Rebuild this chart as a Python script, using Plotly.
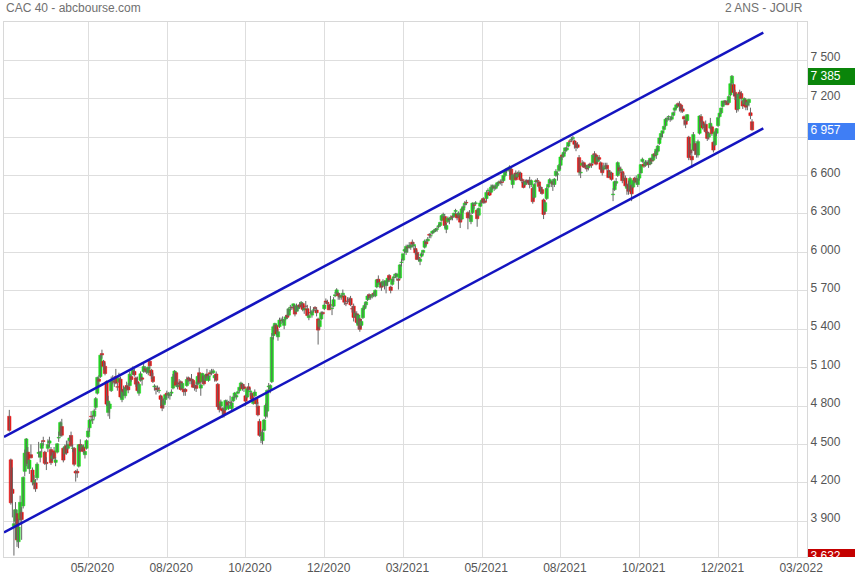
import plotly.graph_objects as go

# ---- Daily OHLC, CAC 40, 11/03/2020 -> 24/01/2022 (one row per month) ----
opens = [
    4720,4380,4150,3860,3900,3960,3740,3910,3970,4020,4290,4370,4440,4310,4420,
    4300,4190,4200,4240,4430,4400,4470,4530,4440,4360,4470,4510,4460,4390,4450,4360,4440,4550,4570,4640,
    4470,4430,4490,4470,4530,4570,4470,4470,4290,4290,4330,4500,4470,4480,4420,4470,4560,4630,4720,4690,
    4720,4790,4900,5010,5030,5210,5150,5110,4990,4750,4780,4920,4990,4990,5030,4950,4990,5010,4850,4930,4880,4960,
    4950,4960,5030,5050,5070,5020,4990,4900,5000,5020,5070,5090,5080,5060,5150,5080,5030,4950,4940,4940,4920,4880,4850,
    4810,4850,4900,4890,4880,4900,4940,5010,5060,4950,4980,4990,4940,4930,4930,4960,5020,5010,5010,5000,4960,
    4960,4970,5060,4940,4990,5030,5000,5050,5000,5060,5060,5060,5020,5050,4970,4810,4800,4780,4770,4770,4830,4780,
    4830,4780,4840,4880,4870,4900,4920,4950,4970,4950,4880,4870,4950,4910,4900,4820,4880,4860,4800,4680,4570,4530,
    4610,4720,4760,4950,4930,4990,5350,5420,5430,5340,5420,5470,5470,5430,5480,5510,5510,5570,5570,5580,5580,
    5540,5560,5590,5590,5600,5550,5580,5560,5490,5530,5510,5550,5570,5550,5480,5420,5480,5530,5560,5620,5610,5590,
    5590,5560,5580,5660,5680,5680,5660,5650,5670,5660,5600,5620,5630,5640,5560,5580,5500,5520,5430,5480,
    5430,5490,5560,5590,5630,5670,5650,5660,5680,5660,5730,5790,5750,5760,5740,5760,5740,5770,5820,5730,
    5750,5800,5820,5810,5790,5800,5920,5940,6010,6000,6040,6040,6040,6080,6050,6030,6000,5960,5930,5970,6000,6040,6080,
    6090,6140,6130,6150,6160,6170,6180,6200,6210,6250,6290,6280,6180,6240,6260,6260,6280,6280,6320,6300,
    6290,6290,6260,6330,6370,6390,6310,6290,6240,6310,6370,6380,6330,6290,6360,6390,6420,6400,6420,6480,6470,
    6470,6500,6510,6500,6520,6540,6550,6550,6560,6600,6640,6650,6640,6650,6530,6600,6620,6590,6620,6620,6570,6550,
    6530,6560,6560,6560,6530,6500,6430,6550,6560,6550,6510,6490,6410,6320,6420,6510,6540,6550,6550,6530,6600,6610,
    6640,6680,6760,6750,6790,6800,6830,6870,6880,6890,6870,6850,6840,6740,6620,6680,6700,6680,6660,6660,6690,6690,
    6700,6770,6760,6710,6740,6700,6650,6650,6670,6680,6640,6600,6620,6450,6490,6540,6600,6660,6640,6630,6570,6580,
    6500,6530,6490,6520,6510,6580,6560,6530,6580,6620,6710,6690,6680,6700,6700,6690,6730,6720,6770,6760,6790,
    6850,6900,6930,6960,6990,7040,7060,7040,7040,7070,7110,7130,7160,7160,7150,7120,7060,7030,7030,6900,6800,6750,
    6800,6850,6810,6760,6930,7060,7020,6980,7000,6940,6900,6970,6980,6860,6840,6930,6990,7060,7090,7140,7170,7180,7170,
    7170,7230,7320,7310,7250,7230,7120,7250,7240,7180,7160,7190,7150,7170,7090,7020,
]
highs = [
    4770,4390,4320,3990,4050,3990,3920,4100,4010,4250,4460,4550,4480,4380,4500,
    4320,4260,4230,4360,4520,4450,4530,4560,4450,4400,4540,4560,4480,4440,4480,4400,4510,4600,4680,4700,
    4480,4500,4530,4530,4570,4600,4500,4480,4300,4310,4500,4540,4500,4500,4450,4540,4630,4700,4760,4730,
    4780,4870,5030,5040,5200,5240,5160,5140,5000,4880,4830,5030,5040,5010,5090,4980,5060,5030,4930,4960,4950,4990,
    4980,5070,5040,5110,5090,5030,5030,4980,5070,5030,5130,5110,5100,5110,5160,5090,5060,4970,4960,4960,4950,4890,4870,
    4860,4890,4920,4910,4900,4930,5050,5080,5070,4990,5010,5000,4990,4940,4940,5030,5030,5020,5050,5010,4970,
    4990,5040,5100,4990,5060,5040,5050,5090,5050,5080,5090,5090,5040,5070,4980,4820,4850,4790,4790,4850,4850,4840,
    4880,4840,4880,4910,4890,4920,4950,4990,4980,4970,4890,4950,4980,4940,4910,4870,4930,4870,4830,4700,4610,4620,
    4700,4820,4930,4980,4970,5370,5430,5450,5440,5400,5490,5490,5500,5480,5510,5560,5570,5590,5580,5600,5590,
    5600,5590,5610,5620,5610,5570,5620,5590,5520,5580,5550,5570,5580,5570,5490,5480,5540,5540,5610,5640,5630,5600,
    5660,5580,5650,5690,5720,5690,5680,5670,5710,5670,5620,5650,5650,5660,5580,5600,5540,5540,5520,5490,
    5480,5570,5600,5620,5670,5680,5670,5680,5690,5710,5790,5820,5770,5770,5790,5780,5780,5800,5830,5740,
    5800,5820,5840,5840,5800,5910,5950,5990,6030,6060,6060,6080,6070,6100,6080,6050,6020,5990,5960,6000,6020,6100,6100,
    6120,6150,6150,6170,6180,6190,6200,6220,6240,6290,6310,6300,6230,6280,6270,6290,6290,6310,6340,6310,
    6320,6300,6350,6370,6400,6410,6320,6330,6310,6390,6390,6400,6340,6350,6400,6420,6430,6410,6480,6500,6480,
    6530,6530,6530,6530,6550,6560,6570,6570,6600,6640,6660,6660,6680,6660,6610,6620,6640,6630,6640,6630,6580,6560,
    6570,6570,6570,6590,6570,6510,6540,6570,6580,6560,6520,6510,6420,6400,6510,6540,6580,6560,6570,6580,6650,6630,
    6690,6750,6770,6790,6820,6830,6860,6880,6900,6910,6880,6860,6860,6760,6660,6720,6710,6690,6680,6690,6700,6700,
    6770,6790,6770,6750,6760,6710,6680,6700,6700,6700,6650,6640,6630,6500,6560,6580,6710,6680,6670,6640,6620,6600,
    6540,6560,6590,6530,6570,6590,6600,6580,6620,6690,6740,6710,6720,6720,6720,6740,6740,6770,6790,6810,6840,
    6900,6930,6950,6990,7050,7060,7070,7060,7070,7100,7130,7160,7170,7180,7160,7140,7070,7040,7080,6910,6850,6800,
    6940,6870,6850,6880,7070,7080,7030,7010,7030,6950,6940,7050,6990,6870,6950,6970,7060,7090,7130,7180,7190,7190,7190,
    7230,7320,7385,7320,7270,7240,7240,7270,7260,7190,7210,7200,7180,7200,7130,7040,
]
lows = [
    4600,4030,3930,3632,3760,3700,3690,3880,3755,4000,4250,4330,4310,4270,4390,
    4180,4150,4130,4220,4400,4360,4440,4490,4340,4300,4440,4480,4340,4370,4380,4330,4430,4520,4560,4560,
    4360,4420,4420,4460,4520,4480,4440,4330,4210,4240,4320,4440,4450,4430,4390,4460,4550,4600,4680,4660,
    4700,4770,4890,4960,5020,5170,5080,5040,4800,4720,4700,4910,4970,4950,4970,4920,4980,4860,4830,4880,4860,4920,
    4900,4950,4990,5040,5030,4950,4910,4880,4990,4960,5060,5060,5050,5040,5090,5010,4980,4920,4890,4910,4900,4800,4760,
    4780,4820,4860,4860,4850,4880,4930,4990,4950,4930,4950,4920,4930,4880,4880,4950,4990,4970,4970,4940,4920,
    4910,4960,4970,4880,4980,4960,4990,5010,4990,5030,5040,5050,4990,4990,4780,4750,4780,4710,4710,4760,4790,4770,
    4800,4760,4830,4860,4850,4890,4910,4940,4920,4910,4800,4860,4920,4880,4840,4810,4870,4790,4720,4560,4510,4500,
    4600,4700,4710,4910,4900,4980,5320,5380,5350,5310,5410,5440,5450,5400,5470,5480,5500,5540,5550,5560,5500,
    5530,5540,5560,5570,5540,5520,5560,5500,5470,5520,5490,5530,5540,5500,5280,5400,5470,5510,5550,5600,5590,5550,
    5570,5510,5570,5650,5670,5630,5630,5630,5660,5590,5580,5600,5610,5580,5530,5460,5490,5440,5400,5380,
    5410,5480,5550,5570,5620,5630,5630,5640,5650,5650,5720,5760,5720,5700,5730,5710,5680,5740,5770,5680,
    5740,5770,5800,5780,5710,5790,5890,5930,5990,5980,6000,6030,6020,6040,6020,5980,5940,5930,5900,5960,5980,6030,6050,
    6080,6110,6110,6140,6150,6160,6160,6190,6200,6240,6270,6190,6150,6230,6220,6250,6250,6270,6300,6250,
    6270,6190,6250,6310,6350,6370,6180,6260,6220,6300,6340,6370,6200,6280,6350,6380,6380,6380,6400,6470,6440,
    6460,6490,6480,6490,6510,6530,6530,6520,6550,6590,6620,6630,6600,6560,6500,6580,6560,6580,6600,6560,6540,6500,
    6520,6530,6530,6500,6510,6380,6420,6530,6540,6500,6460,6450,6260,6300,6410,6500,6530,6510,6480,6510,6590,6560,
    6630,6650,6720,6740,6770,6790,6820,6850,6860,6870,6810,6790,6810,6600,6580,6670,6660,6650,6630,6640,6670,6660,
    6690,6740,6680,6700,6710,6630,6600,6640,6650,6640,6580,6590,6560,6400,6480,6520,6590,6610,6620,6540,6560,6510,
    6450,6450,6480,6400,6500,6540,6530,6510,6560,6610,6700,6660,6670,6680,6660,6680,6690,6710,6740,6730,6780,
    6840,6880,6900,6950,6980,7020,7030,7020,7030,7060,7090,7120,7140,7100,7090,7090,6990,6970,7020,6720,6760,6660,
    6790,6760,6740,6740,6920,6990,6960,6950,6930,6870,6880,6960,6910,6780,6830,6910,6980,7050,7080,7130,7150,7150,7150,
    7160,7220,7310,7220,7190,7090,7100,7220,7180,7120,7150,7110,7110,7140,7040,6950,
]
closes = [
    4610,4044,4118,3881,3991,3754,3855,4048,3914,4243,4432,4543,4351,4378,4396,
    4207,4220,4154,4346,4438,4442,4507,4523,4353,4350,4499,4528,4357,4411,4393,4378,4505,4555,4671,4572,
    4378,4483,4433,4501,4550,4490,4470,4345,4277,4278,4498,4448,4491,4445,4445,4530,4605,4690,4716,4695,
    4762,4858,5023,4993,5197,5199,5110,5054,4815,4839,4816,5000,5001,4987,4979,4948,5017,4871,4915,4910,4945,4936,
    4926,5049,5007,5082,5043,4971,4921,4970,5052,5009,5108,5085,5069,5104,5114,5035,4991,4956,4928,4930,4922,4852,4784,
    4843,4889,4885,4896,4889,4909,5027,5073,4962,4962,4971,4929,4977,4911,4914,5007,5008,4997,4998,4947,4947,
    4938,5031,4985,4965,5054,4973,5042,5024,5034,5051,5067,5075,5039,5001,4795,4772,4833,4762,4730,4843,4806,4803,
    4825,4824,4871,4902,4882,4911,4946,4980,4935,4937,4838,4935,4929,4918,4853,4851,4909,4817,4731,4571,4569,4594,
    4691,4805,4922,4956,4960,5337,5419,5445,5363,5380,5471,5468,5474,5475,5496,5493,5559,5571,5566,5598,5518,
    5581,5583,5574,5609,5555,5561,5579,5507,5507,5528,5540,5550,5561,5528,5393,5467,5528,5522,5589,5611,5599,5551,
    5588,5564,5630,5669,5707,5662,5651,5663,5681,5611,5598,5618,5628,5590,5559,5492,5523,5453,5511,5399,
    5461,5563,5585,5613,5659,5648,5655,5670,5670,5704,5786,5765,5765,5728,5774,5767,5779,5798,5784,5703,
    5792,5809,5830,5831,5782,5902,5924,5989,6022,6046,6036,6055,6056,6063,6061,5997,5945,5953,5948,5989,6016,6088,6067,
    6103,6134,6130,6165,6169,6182,6185,6208,6234,6287,6296,6210,6210,6267,6258,6275,6275,6306,6327,6269,
    6307,6236,6339,6357,6385,6386,6269,6280,6288,6385,6367,6387,6263,6343,6386,6408,6391,6391,6467,6484,6447,
    6509,6521,6507,6516,6543,6550,6547,6546,6600,6638,6652,6653,6667,6569,6602,6606,6567,6612,6622,6567,6558,6507,
    6553,6552,6543,6530,6560,6396,6530,6559,6557,6515,6476,6460,6296,6388,6499,6530,6568,6551,6532,6572,6633,6613,
    6679,6745,6747,6781,6816,6815,6858,6867,6882,6896,6844,6819,6820,6626,6626,6697,6666,6665,6652,6681,6677,6680,
    6759,6763,6689,6743,6727,6649,6622,6663,6676,6653,6584,6623,6570,6455,6552,6553,6701,6638,6650,6560,6575,6520,
    6518,6477,6577,6457,6561,6560,6548,6577,6609,6685,6727,6673,6705,6705,6686,6734,6713,6766,6754,6805,6830,
    6893,6928,6950,6984,7040,7048,7061,7040,7059,7091,7128,7152,7157,7141,7112,7102,7042,7000,7075,6740,6776,6722,
    6920,6796,6765,6865,7065,7021,6973,6991,6942,6890,6928,7008,6927,6799,6939,6966,7052,7087,7127,7182,7181,7173,7153,
    7217,7317,7376,7249,7220,7115,7237,7237,7201,7143,7202,7134,7172,7194,7068,6957,
]
assert len(opens) == len(highs) == len(lows) == len(closes), (len(opens), len(highs), len(lows), len(closes))

# x axis: trading-day index, labelled every 51 sessions
tick_labels = ["05/2020", "08/2020", "10/2020", "12/2020", "03/2021",
               "05/2021", "08/2021", "10/2021", "12/2021", "03/2022"]
first_tick = 51.2
tick_step = 51
price_ticks = [3900, 4200, 4500, 4800, 5100, 5400, 5700, 6000, 6300, 6600, 6900, 7200, 7500]
hidden_tick = 6900  # label sits under the last-price tag

# trend channel (session index, value)
channel_x = [-3.43, 488.3]
channel_upper = [4559, 7716]
channel_lower = [3813, 6969]

X_RANGE = [-3.43, 516.6]
Y_RANGE = [3621, 7799]

GREEN = "#1edc1e"
RED = "#e21414"
WICK = "#666666"

n = len(closes)
idx = list(range(n))

wx, wy = [], []
for i in idx:
    wx += [i, i, None]
    wy += [lows[i], highs[i], None]

bases = [min(o, c) for o, c in zip(opens, closes)]
heights = [abs(c - o) for o, c in zip(opens, closes)]
colors = [GREEN if c >= o else RED for o, c in zip(opens, closes)]

fig = go.Figure()

fig.add_trace(go.Scatter(x=wx, y=wy, mode="lines",
                         line=dict(color=WICK, width=1),
                         hoverinfo="skip", showlegend=False))
fig.add_trace(go.Bar(x=idx, y=heights, base=bases, width=2.1,
                     marker=dict(color=colors, line=dict(color=colors, width=0.6)),
                     hoverinfo="skip", showlegend=False))
fig.add_trace(go.Scatter(x=channel_x, y=channel_upper, mode="lines",
                         line=dict(color="#1414c0", width=2.5),
                         hoverinfo="skip", showlegend=False))
fig.add_trace(go.Scatter(x=channel_x, y=channel_lower, mode="lines",
                         line=dict(color="#1414c0", width=2.5),
                         hoverinfo="skip", showlegend=False))

# price tags on the right (max, last, min), clipped to the plotting band
plot_h_px = 580 - 22 - 23
u_per_px = (Y_RANGE[1] - Y_RANGE[0]) / plot_h_px
tags = [(max(highs), "#0a850a"), (closes[-1], "#3f7ef5"), (min(lows), "#c40000")]
for val, col in tags:
    centre = val - 1.5 * u_per_px
    fig.add_trace(go.Bar(x=[23.5], y=[17 * u_per_px], base=[centre - 8.5 * u_per_px],
                         width=47, marker=dict(color=col, line=dict(width=0)),
                         xaxis="x2", yaxis="y2", hoverinfo="skip", showlegend=False))
    fig.add_trace(go.Scatter(x=[2.5], y=[centre], mode="text",
                             text=[f"{val:,}".replace(",", " ")],
                             textposition="middle right",
                             textfont=dict(color="white", size=12,
                                           family="Liberation Sans, Arial, sans-serif"),
                             cliponaxis=True, xaxis="x2", yaxis="y2",
                             hoverinfo="skip", showlegend=False))

W = 855
left, right_main = 4, 807
fig.update_layout(
    width=W, height=580, autosize=False,
    margin=dict(l=4, r=0, t=22, b=23, autoexpand=False),
    paper_bgcolor="white", plot_bgcolor="white",
    barmode="overlay", bargap=0,
    font=dict(family="Liberation Sans, Arial, sans-serif", size=12, color="#555555"),
    xaxis=dict(domain=[0, (right_main - left) / (W - left)], range=X_RANGE, automargin=False,
               tickvals=[first_tick + tick_step * k for k in range(len(tick_labels))],
               ticktext=tick_labels, showgrid=True, gridcolor="#dedede", gridwidth=1,
               zeroline=False, showline=True, linecolor="#d8d8d8", linewidth=1, mirror=True,
               ticks="", ticklabelshift=4, tickfont=dict(size=12, color="#555555")),
    yaxis=dict(range=Y_RANGE, side="right", anchor="x", automargin=False,
               tickvals=price_ticks,
               ticktext=["" if v == hidden_tick else f"{v:,}".replace(",", " ") for v in price_ticks],
               showgrid=True, gridcolor="#dedede", gridwidth=1, zeroline=False,
               showline=True, linecolor="#d8d8d8", linewidth=1, mirror=True,
               ticks="", ticklabelshift=-3, tickfont=dict(size=12, color="#555555")),
    xaxis2=dict(domain=[(right_main + 1 - left) / (W - left), 1], range=[0, 47],
                visible=False, fixedrange=True, automargin=False),
    yaxis2=dict(domain=[0, 1], range=Y_RANGE, anchor="x2", visible=False, fixedrange=True,
                automargin=False),
    annotations=[
        dict(text="CAC 40 - abcbourse.com", xref="paper", yref="paper", x=0, y=1 + 13.5 / plot_h_px,
             xanchor="left", yanchor="middle", showarrow=False,
             font=dict(size=12, color="#707070")),
        dict(text="2 ANS - JOUR", xref="paper", yref="paper", x=(805 - left) / (W - left),
             y=1 + 13.5 / plot_h_px, xanchor="right", yanchor="middle", showarrow=False,
             font=dict(size=12, color="#707070")),
    ],
)

fig.write_html("out.html",
               config={"displayModeBar": False, "staticPlot": True, "responsive": False},
               post_script="document.body.style.margin='0';document.body.style.overflow='hidden';")
